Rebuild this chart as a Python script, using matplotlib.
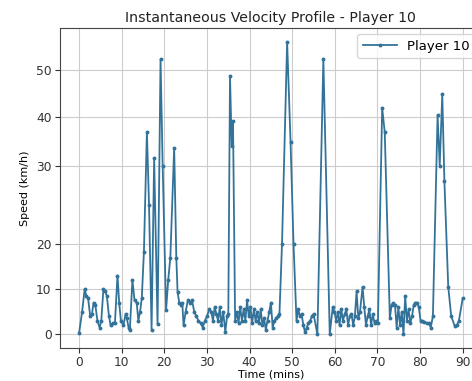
import numpy as np
import matplotlib
matplotlib.use("Agg")
import matplotlib.pyplot as plt

# speed readings for player 10 (minute, km/h)
time_mins = [0.0, 0.7, 1.3, 1.7, 2.1, 2.6, 3.0, 3.4, 3.8, 4.3, 4.8, 5.2, 5.7, 6.1, 6.5, 7.0, 7.4, 7.9, 8.4,
             9.0, 9.4, 9.8, 10.4, 10.9, 11.2, 11.6, 11.9, 12.5, 13.0, 13.5, 13.9, 14.3, 14.7, 15.2, 15.9,
             16.4, 17.0, 17.6, 18.4, 19.1, 19.6, 20.4, 20.9, 21.4, 22.3, 22.8, 23.1, 23.5, 23.9, 24.2, 24.5,
             25.0, 25.5, 26.0, 26.5, 27.0, 27.5, 28.0, 28.5, 29.0, 29.5, 30.0, 30.5, 31.0, 31.4, 31.8, 32.2,
             32.6, 33.0, 33.4, 33.8, 34.3, 34.7, 35.0, 35.4, 35.8, 36.1, 36.6, 37.0, 37.4, 37.8, 38.2, 38.6,
             39.0, 39.4, 39.8, 40.2, 40.6, 41.0, 41.4, 41.8, 42.2, 42.6, 43.0, 43.4, 43.8, 44.2, 44.6, 45.0,
             45.4, 45.8, 46.2, 46.6, 47.0, 47.6, 48.8, 49.6, 50.3, 51.0, 51.4, 51.8, 52.2, 52.6, 53.0, 53.4,
             53.8, 54.2, 54.6, 55.0, 55.9, 57.3, 58.8, 59.5, 59.9, 60.3, 60.7, 61.1, 61.5, 61.9, 62.3, 62.7,
             63.1, 63.5, 63.9, 64.3, 64.7, 65.1, 65.5, 65.9, 66.5, 66.9, 67.3, 67.7, 68.1, 68.5, 68.9, 69.3,
             69.7, 70.1, 71.1, 71.7, 72.9, 73.3, 73.7, 74.1, 74.5, 74.9, 75.3, 75.7, 76.1, 76.5, 76.9, 77.3,
             77.7, 78.1, 78.5, 78.9, 79.3, 79.7, 80.1, 80.5, 81.0, 81.5, 82.0, 82.5, 83.0, 84.1, 84.6, 85.2,
             85.7, 86.6, 87.3, 88.1, 88.6, 89.1, 90.0]
speed_kmh = [0.3, 5, 10, 8.5, 8, 4, 4.5, 7, 6.5, 3, 1.5, 3, 10, 9.5, 8.5, 4, 2, 2.5, 2.5,
             13, 7, 3, 2, 4.5, 3.5, 1.5, 1, 12, 7.5, 7, 3, 5, 8, 18.2, 37,
             25, 1, 31.5, 2.2, 52.3, 30, 5.3, 12, 17, 33.7, 17, 9.3, 7, 6.5, 7, 2,
             5, 7.5, 7, 7.5, 5, 4, 3, 2.5, 1.5, 3, 4, 5.5, 5, 3, 6, 4.5,
             3, 6, 2, 5, 0.5, 4, 4.5, 48.7, 34, 39.2, 3, 5, 2.5, 6, 3, 5.5,
             3, 7.5, 4, 6, 2.5, 5.5, 3, 5, 2.5, 5.5, 2, 3.5, 1, 3, 5, 7,
             1.5, 3, 3.5, 4, 4.5, 20, 56, 35, 20, 3, 5.5, 4, 4.5, 2, 0.5, 1.5,
             2.5, 3, 4, 4.5, 0, 52.3, 0, 6, 5, 3, 5, 2, 5.5, 3, 4.5, 5.5,
             2, 4, 4.5, 2, 4, 9.5, 3.5, 5, 10.5, 6, 2, 4, 5.5, 2, 4.5, 2.5,
             3, 2.5, 42, 37, 3.5, 6.5, 7, 6.5, 1.5, 6, 2, 5, 0, 8.5, 3, 5.5,
             2.5, 4, 6.5, 7, 7, 6, 3, 3, 2.8, 2.5, 2.5, 1.5, 4, 40.5, 30, 44.9,
             28, 10.5, 4, 1.9, 2, 3, 8]

# the y axis in the picture is not evenly spaced (20-30 gap is stretched)
y_data = [-10, 0, 10, 20, 30, 40, 50, 70]
y_pix = [-45, 0, 45, 90, 168, 216, 263, 357]

def fwd(v):
    return np.interp(v, y_data, y_pix)

def inv(v):
    return np.interp(v, y_pix, y_data)

fig = plt.figure(figsize=(4.72, 3.81), dpi=100)
ax = fig.add_axes([0.127, 0.087, 0.894, 0.84])

ax.plot(time_mins, speed_kmh, color="#33739a", marker="o", markersize=1.8,
        linewidth=1.3, label="Player 10")
ax.set_yscale("function", functions=(fwd, inv))
ax.set_ylim(-3, 59)
ax.set_xlim(-4.5, 94.5)
ax.set_yticks([0, 10, 20, 30, 40, 50])
ax.set_xticks(np.arange(0, 91, 10))
ax.tick_params(labelsize=8.8, colors="#333333", pad=2.5)
ax.grid(True, color="#cccccc", linewidth=0.8)

ax.set_title("Instantaneous Velocity Profile - Player 10", fontsize=10.2, color="#222222", pad=4)
ax.set_xlabel("Time (mins)", fontsize=8, labelpad=0)
ax.set_ylabel("Speed (km/h)", fontsize=8)
ax.legend(loc="upper right", fontsize=9.5, handlelength=2.6)

for s in ax.spines.values():
    s.set_color("#444444")

fig.savefig("out.png", dpi=100)
